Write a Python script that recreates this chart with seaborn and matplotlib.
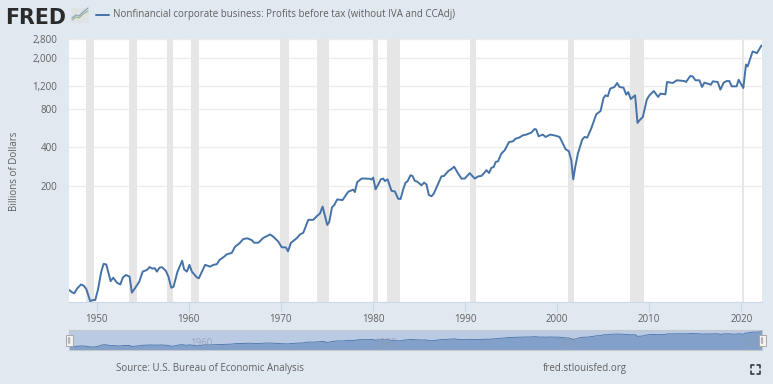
# Import necessary libraries
import matplotlib
matplotlib.use("Agg")
import numpy as np
import pandas as pd
import matplotlib.pyplot as plt
import seaborn as sns

# Values
years = [1947.0, 1947.33, 1947.58, 1947.87, 1948.3, 1948.6, 1948.88, 1949.3, 1949.6, 1949.85,
         1950.14, 1950.5, 1950.76, 1951.05, 1951.3, 1951.52, 1951.8, 1952.2, 1952.57, 1952.85,
         1953.2, 1953.58, 1953.83, 1954.2, 1954.63, 1955.0, 1955.46, 1955.75, 1956.03, 1956.32,
         1956.54, 1956.83, 1957.12, 1957.52, 1957.8, 1958.1, 1958.35, 1958.78, 1959.29, 1959.5,
         1959.8, 1960.08, 1960.34, 1960.88, 1961.1, 1961.78, 1962.32, 1962.68, 1963.05, 1963.34,
         1963.84, 1964.13, 1964.67, 1965.03, 1965.5, 1965.94, 1966.37, 1966.84, 1967.1, 1967.56,
         1968.1, 1968.83, 1969.19, 1969.73, 1970.09, 1970.56, 1970.78, 1971.1, 1971.72, 1972.08,
         1972.44, 1972.98, 1973.53, 1973.89, 1974.25, 1974.54, 1975.04, 1975.26, 1975.55, 1975.8,
         1976.13, 1976.7, 1977.32, 1977.86, 1978.04, 1978.3, 1978.77, 1979.13, 1979.67, 1979.85,
         1980.03, 1980.29, 1980.58, 1980.86, 1981.12, 1981.3, 1981.59, 1982.02, 1982.38, 1982.74,
         1983.0, 1983.29, 1983.54, 1983.76, 1984.08, 1984.3, 1984.55, 1984.84, 1985.27, 1985.56,
         1985.82, 1986.07, 1986.36, 1986.61, 1987.01, 1987.44, 1987.73, 1988.16, 1988.6, 1988.82,
         1989.25, 1989.61, 1989.97, 1990.51, 1991.06, 1991.42, 1991.78, 1992.07, 1992.32, 1992.61,
         1992.86, 1993.12, 1993.33, 1993.59, 1993.95, 1994.31, 1994.78, 1995.21, 1995.5, 1995.86,
         1996.3, 1996.66, 1997.2, 1997.56, 1997.74, 1997.99, 1998.46, 1998.75, 1999.26, 1999.8,
         2000.27, 2000.63, 2000.92, 2001.28, 2001.54, 2001.75, 2001.97, 2002.26, 2002.73, 2002.98,
         2003.27, 2003.7, 2004.25, 2004.72, 2005.04, 2005.26, 2005.51, 2005.76, 2006.23, 2006.52,
         2006.78, 2007.21, 2007.5, 2007.72, 2008.0, 2008.47, 2008.73, 2008.95, 2009.31, 2009.74,
         2010.03, 2010.5, 2010.97, 2011.22, 2011.76, 2011.94, 2012.56, 2012.99, 2013.82, 2014.0,
         2014.47, 2014.73, 2015.02, 2015.45, 2015.74, 2015.99, 2016.71, 2016.9, 2017.44, 2017.73,
         2018.09, 2018.41, 2018.7, 2018.96, 2019.5, 2019.71, 2020.22, 2020.51, 2020.69, 2021.23,
         2021.7, 2022.21]
profits = [30.6, 29.3, 28.8, 31.3, 33.7, 33, 31, 25, 25.5, 25.5,
           30.6, 42.5, 48.9, 48.3, 41.2, 35.8, 38.1, 34.9, 33.7, 38.3,
           40, 38.8, 29.1, 31.8, 35.5, 42.5, 43.8, 46.2, 44.9, 45.2,
           42.5, 45.7, 46, 43, 38.8, 31.8, 32.4, 42.5, 51.7, 44.3,
           42.5, 48, 42.5, 38.3, 37.7, 48, 46.5, 48, 48.6, 52.4,
           55.6, 58, 59.5, 66.6, 70.7, 76.5, 77.4, 75, 71.5, 71.5,
           78, 83, 79.7, 72.9, 66, 65.6, 61.3, 71.5, 77.4, 83,
           85.5, 108, 108, 115, 121, 137, 98.5, 104, 135, 141,
           156, 154, 179, 186, 178, 213, 227, 227, 226, 223,
           231, 187, 204, 224, 227, 217, 224, 182, 180, 158,
           157, 187, 211, 216, 241, 238, 218, 214, 201, 211,
           204, 169, 165, 173, 201, 236, 238, 259, 272, 281,
           249, 227, 227, 250, 227, 236, 238, 250, 264, 251,
           275, 280, 306, 310, 356, 378, 438, 444, 466, 474,
           495, 501, 519, 554, 548, 486, 501, 480, 501, 492,
           480, 426, 385, 371, 315, 224, 280, 356, 458, 480,
           474, 558, 721, 766, 968, 1016, 998, 1145, 1180, 1268,
           1180, 1166, 1028, 1078, 950, 1016, 618, 648, 688, 940,
           1016, 1098, 986, 1047, 1034, 1292, 1268, 1332, 1314, 1292,
           1440, 1425, 1332, 1332, 1180, 1276, 1230, 1306, 1292, 1125,
           1276, 1314, 1314, 1194, 1194, 1346, 1158, 1768, 1708, 2236,
           2174, 2500]

recession_start = [1948.88, 1953.55, 1957.6, 1960.3, 1969.95, 1973.88, 1980.05, 1981.55, 1990.55, 2001.2, 2007.95, 2020.13]
recession_end = [1949.75, 1954.4, 1958.25, 1961.15, 1970.9, 1975.2, 1980.55, 1982.9, 1991.2, 2001.85, 2009.45, 2020.3]

x_ticks = [1950, 1960, 1970, 1980, 1990, 2000, 2010, 2020]
y_ticks = [200, 400, 800, 1200, 2000, 2800]
y_labels = ['200', '400', '800', '1,200', '2,000', '2,800']
nav_labels = [1960, 1980, 2000, 2020]

series_name = 'Nonfinancial corporate business: Profits before tax (without IVA and CCAdj)'

df = pd.DataFrame({'year': years, 'profits': profits})

BG = '#e1e9f0'
LINE = '#4572a7'
GREY = '#e6e6e6'
TEXT = '#5f5f5f'

sns.set_theme(style='white')
plt.rcParams['font.family'] = ['Open Sans', 'DejaVu Sans']

W, H = 773, 384
fig = plt.figure(figsize=(W / 100, H / 100), dpi=100, facecolor=BG)


def px_axes(left, top, right, bottom):
    return fig.add_axes([left / W, 1 - bottom / H, (right - left) / W, (bottom - top) / H])


# Main chart
ax = px_axes(69, 39, 762, 302)
ax.set_facecolor('white')
for a, b in zip(recession_start, recession_end):
    ax.axvspan(a, b, color=GREY, lw=0, zorder=1)
sns.lineplot(data=df, x='year', y='profits', ax=ax, color=LINE, linewidth=1.4,
             label=series_name, zorder=3, legend=False)
ax.set_yscale('log')
ax.set_ylim(24.6, 2800)
ax.set_xlim(1947.0, 2022.25)
ax.set_yticks(y_ticks)
ax.set_yticklabels(y_labels)
ax.minorticks_off()
ax.set_xticks(x_ticks)
ax.set_xticklabels([str(t) for t in x_ticks])
ax.grid(axis='y', color='#ececec', lw=1, zorder=0)
ax.set_axisbelow(True)
ax.tick_params(axis='y', length=0, labelsize=7, labelcolor=TEXT, pad=8.5)
ax.tick_params(axis='x', length=7, width=0.8, color='#ccd6eb', labelsize=7, labelcolor=TEXT,
               pad=1.5, bottom=True, direction='out')
for side in ['top', 'left', 'right']:
    ax.spines[side].set_visible(False)
ax.spines['bottom'].set_color('#ccd6eb')
ax.spines['bottom'].set_linewidth(0.8)
ax.set_xlabel('')
ax.set_ylabel('')

# Navigator under the chart
nav = px_axes(69, 330, 762, 350)
nav.set_facecolor('#bbcae3')
nav.set_yscale('log')
sns.lineplot(data=df, x='year', y='profits', ax=nav, color=LINE, linewidth=0.6, legend=False, zorder=3)
nav.fill_between(years, profits, 10, color='#82a0c9', lw=0, zorder=2)
nav.set_xlim(1947.0, 2022.25)
nav.set_ylim(10, 4170)
nav.set_xticks([])
nav.set_yticks([])
nav.minorticks_off()
nav.set_xlabel('')
nav.set_ylabel('')
for side in nav.spines.values():
    side.set_color('#c4c8cc')
    side.set_linewidth(0.8)
for yr in nav_labels:
    nav.annotate(str(yr), xy=(yr, 0), xycoords=('data', 'axes fraction'), xytext=(12.5, 1),
                 textcoords='offset pixels', ha='center', va='bottom', fontsize=7,
                 color='#8f9bb0', alpha=0.75, annotation_clip=False, clip_on=True, zorder=4)

# Overlay in pixel coordinates for logo, legend, source line and navigator handles
top = fig.add_axes([0, 0, 1, 1], facecolor='none')
top.set_xlim(0, W)
top.set_ylim(H, 0)
top.axis('off')

top.text(5, 15.5, 'FRED', family='DejaVu Sans', weight='bold', fontsize=14.8, color='#2b2b2b',
         ha='left', va='center_baseline')
top.add_patch(plt.Rectangle((71, 8), 18, 15, color='#dfe3e4', lw=0))
top.plot([72, 76, 79, 83, 88], [20, 17, 18, 14, 11], color='#9dba8b', lw=0.9)
top.plot([72, 76, 79, 83, 88], [18, 15, 16, 12, 8], color='#8ea5c0', lw=0.9)

top.plot([96, 109], [15, 15], color=LINE, lw=1.4)
top.text(113, 15, series_name, fontsize=7, color=TEXT, ha='left', va='center')

top.text(15, 171, 'Billions of Dollars', fontsize=7, color=TEXT, rotation=90, ha='center', va='center')
top.text(116, 369, 'Source: U.S. Bureau of Economic Analysis', fontsize=7, color=TEXT, ha='left', va='center')
top.text(543, 369, 'fred.stlouisfed.org', fontsize=7, color=TEXT, ha='left', va='center')

# Navigator handles
for hx in [69, 762]:
    top.add_patch(plt.Rectangle((hx - 3.5, 335), 7, 11, facecolor='#f2f2f2', edgecolor='#a8a8a8', lw=0.7, zorder=5))
    top.plot([hx, hx], [338, 343], color='#b5b5b5', lw=1.6, zorder=6)

# Fullscreen icon
for cx, sx in [(751, 1), (760, -1)]:
    for cy, sy in [(365, 1), (374, -1)]:
        top.plot([cx + 3 * sx, cx, cx], [cy, cy, cy + 3 * sy], color='#2b2b2b', lw=1.1)

fig.savefig('out.png', dpi=100, facecolor=BG)
